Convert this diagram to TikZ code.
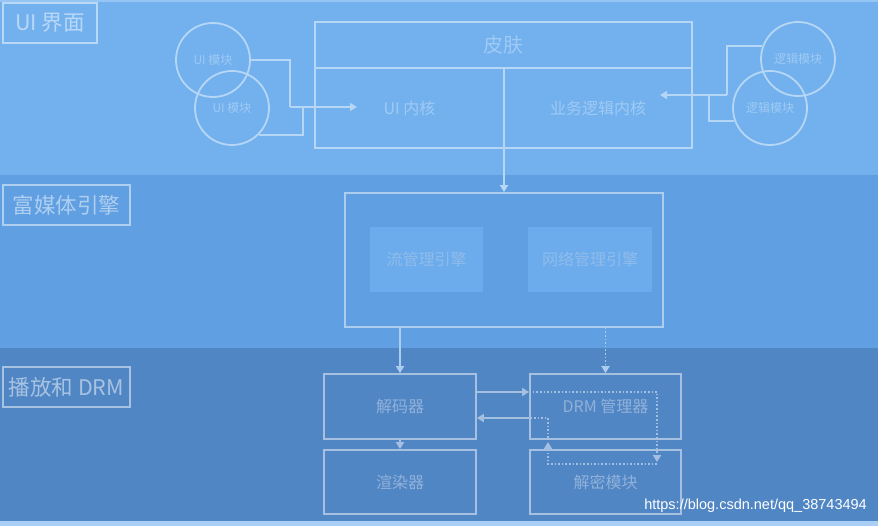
\documentclass[tikz,border=0pt]{standalone}
\usepackage{fontspec}
\setmainfont{Noto Sans CJK SC}
\newfontfamily\wmfont{Liberation Sans}
\usetikzlibrary{arrows.meta}
\definecolor{bandA}{HTML}{72B1EE}
\definecolor{bandB}{HTML}{5F9FE2}
\definecolor{bandC}{HTML}{5186C5}
\definecolor{bandD}{HTML}{A9D0F4}
\definecolor{innerfill}{HTML}{6CACEC}
\colorlet{lineA}{white!48!bandA}
\colorlet{lineB}{white!48!bandB}
\colorlet{lineC}{white!48!bandC}
\colorlet{textA}{white!32!bandA}
\colorlet{textB}{white!30!bandB}
\colorlet{textC}{white!36!bandC}
\tikzset{
  lbl/.style={draw, line width=1.8pt, minimum height=40pt, inner sep=0pt, font=\fontsize{21.5}{21.5}\selectfont},
  boxA/.style={draw=lineA, line width=1.8pt, inner sep=0pt, text=textA, font=\fontsize{16}{16}\selectfont},
  boxB/.style={draw=lineB, line width=1.8pt, inner sep=0pt, text=textB, font=\fontsize{16}{16}\selectfont},
  boxC/.style={draw=lineC, line width=1.8pt, inner sep=0pt, text=textC, font=\fontsize{16}{16}\selectfont},
  modcirc/.style={circle, draw=lineA, line width=1.8pt, minimum size=74pt, inner sep=0pt, text=textA, font=\fontsize{12}{12}\selectfont},
  conn/.style={line width=1.8pt},
  tip/.style={-{Triangle[length=7pt,width=8pt]}},
  dots/.style={line width=1.8pt, dash pattern=on 1.6pt off 2pt},
}
\begin{document}
\begin{tikzpicture}[x=1pt,y=-1pt]
\useasboundingbox (0,0) rectangle (878,526);
\fill[bandA] (0,0) rectangle (878,175);
\fill[white!25!bandA] (0,0) rectangle (878,2);
\fill[bandB] (0,175) rectangle (878,348);
\fill[bandC] (0,348) rectangle (878,521);
\fill[bandD] (0,521) rectangle (878,526);

% layer labels
\node[lbl, draw=white!50!bandA, text=white!50!bandA, minimum width=94pt] (labA) at (50,23) {UI 界面};
\node[lbl, draw=white!50!bandB, text=white!50!bandB, minimum width=127pt] (labB) at (66.5,205) {富媒体引擎};
\node[lbl, draw=white!50!bandC, text=white!50!bandC, minimum width=127pt] (labC) at (66.5,387) {播放和 DRM};

% UI layer
\node[boxA, minimum width=377pt, minimum height=46pt, font=\fontsize{20}{20}\selectfont] (skin) at (503.5,45) {皮肤};
\node[boxA, minimum width=189pt, minimum height=80pt] (uicore) at (409.5,108) {UI 内核};
\node[boxA, minimum width=188pt, minimum height=80pt] (biz) at (598,108) {业务逻辑内核};

\node[modcirc] (c1) at (213,60) {UI 模块};
\node[modcirc] (c2) at (232,108) {UI 模块};
\node[modcirc] (c3) at (798,59) {逻辑模块};
\node[modcirc] (c4) at (770,108) {逻辑模块};

\coordinate (uitip) at (357,107);
\coordinate (ujoin) at (290,107);
\coordinate (ujoin2) at (303,107);
\coordinate (biztip) at (660,95);
\coordinate (bjoin) at (727,95);
\coordinate (bjoin2) at (709,95);

\draw[conn, lineA] (c1.east) -| (ujoin);
\draw[conn, lineA] (c2.-45) -| (ujoin2);
\draw[conn, lineA, tip] (ujoin) -- (uitip);
\draw[conn, lineA] (c3.160) -| (bjoin);
\draw[conn, lineA] (c4.200) -| (bjoin2);
\draw[conn, lineA, tip] (bjoin) -- (biztip);

% rich media layer
\node[boxB, minimum width=318pt, minimum height=134pt] (rich) at (504,260) {};
\node[boxB, draw=none, fill=innerfill, minimum width=113pt, minimum height=65pt] (stream) at (426.5,259.5) {流管理引擎};
\node[boxB, draw=none, fill=innerfill, minimum width=124pt, minimum height=65pt] (net) at (590,259.5) {网络管理引擎};

\draw[conn, lineA, tip] (rich.north |- uicore.south) -- (rich.north);

% playback layer
\node[boxC, minimum width=152pt, minimum height=65pt] (dec) at (400,406.5) {解码器};
\node[boxC, minimum width=152pt, minimum height=64pt] (rend) at (400,482) {渲染器};
\node[boxC, minimum width=151pt, minimum height=65pt] (drm) at (605.5,406.5) {DRM 管理器};
\node[boxC, minimum width=151pt, minimum height=64pt] (decr) at (605.5,482) {解密模块};

\draw[conn, lineB, tip] (dec.north |- rich.south) -- (dec.north);
\draw[dots, lineB, tip] (drm.north |- rich.south) -- (drm.north);
\draw[conn, lineC, tip] (dec.south) -- (rend.north);

\coordinate (d1) at (dec.east |- 0,392);
\coordinate (d2) at (drm.west |- 0,392);
\coordinate (d3) at (657,392);
\coordinate (d4) at (657,462);
\coordinate (e1) at (657,464);
\coordinate (e2) at (548,464);
\coordinate (e3) at (548,442);
\coordinate (f1) at (548,438);
\coordinate (f2) at (548,418);
\coordinate (f3) at (drm.west |- 0,418);
\coordinate (f4) at (dec.east |- 0,418);

\draw[conn, lineC, tip] (d1) -- (d2);
\draw[dots, lineC, tip] (d2) -- (d3) -- (d4);
\draw[dots, lineC, tip] (e1) -- (e2) -- (e3);
\draw[dots, lineC] (f1) -- (f2) -- (f3);
\draw[conn, lineC, tip] (f3) -- (f4);

% watermark
\node[text=white, font=\wmfont\fontsize{14.5}{14.5}\selectfont, anchor=east, inner sep=0pt] (wm) at (867,506) {https://blog.csdn.net/qq\_38743494};
\end{tikzpicture}
\end{document}
